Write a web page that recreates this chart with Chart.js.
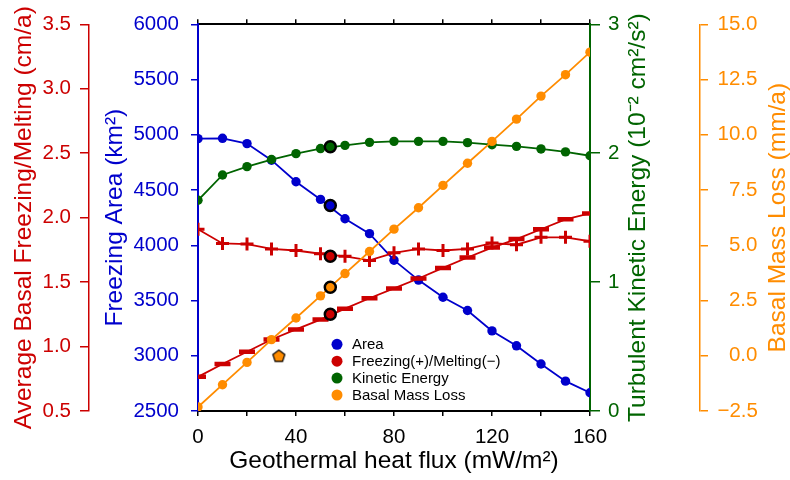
<!DOCTYPE html>
<html>
<head>
<meta charset="utf-8">
<script src="https://cdn.jsdelivr.net/npm/chart.js@4.4.1/dist/chart.umd.min.js"></script>
<style>
  body { margin: 0; background: #fff; }
  #wrap { width: 790px; height: 480px; }
</style>
</head>
<body>
<div id="wrap"><canvas id="fluxChart" width="790" height="480"></canvas></div>
<script>
// Geothermal heat flux runs: area, freezing/melting, TKE, mass loss

const heatFlux = [0, 10, 20, 30, 40, 50, 60, 70, 80, 90, 100, 110, 120, 130, 140, 150, 160];
const freezingArea = [4965, 4968, 4920, 4770, 4575, 4415, 4240, 4105, 3865, 3685, 3530, 3410, 3225, 3090, 2925, 2770, 2665];
const freezing = [1.91, 1.80, 1.795, 1.757, 1.745, 1.72, 1.70, 1.668, 1.727, 1.757, 1.745, 1.757, 1.803, 1.79, 1.847, 1.847, 1.817];
const melting = [0.765, 0.865, 0.96, 1.055, 1.133, 1.209, 1.294, 1.375, 1.451, 1.528, 1.61, 1.691, 1.768, 1.834, 1.91, 1.987, 2.033];
const kineticEnergy = [1.635, 1.831, 1.896, 1.951, 1.997, 2.036, 2.061, 2.084, 2.092, 2.092, 2.092, 2.082, 2.066, 2.053, 2.033, 2.010, 1.980];
const massLoss = [-2.32, -1.31, -0.30, 0.73, 1.71, 2.71, 3.72, 4.72, 5.73, 6.70, 7.71, 8.71, 9.70, 10.71, 11.75, 12.72, 13.74];

// circled reference run
const markedFlux = [54];
const markedArea = [4360];
const markedFreezing = [1.70];
const markedMelting = [1.25];
const markedEnergy = [2.05];
const markedMassLoss = [3.10];

// lone pentagon estimate
const pentagonFlux = [33];
const pentagonMassLoss = [0.0];

const xLabelTicks = [0, 40, 80, 120, 160];
const legendLabels = ['Area', 'Freezing(+)/Melting(\u2212)', 'Kinetic Energy', 'Basal Mass Loss'];

const BLUE = '#0000cc';
const RED = '#cc0000';
const GREEN = '#006400';
const ORANGE = '#ff8c00';
const FAMILY = "'Liberation Sans', Arial, sans-serif";

function pairs(xs, ys) {
    return xs.map((x, i) => ({ x: x, y: ys[i] }));
}

function pentagonImage(size, fill) {
    const c = document.createElement('canvas');
    c.width = size;
    c.height = size;
    const g = c.getContext('2d');
    const r = size / 2 - 1.2;
    g.beginPath();
    for (let k = 0; k < 5; k++) {
        const a = -Math.PI / 2 + k * 2 * Math.PI / 5;
        const px = size / 2 + r * Math.cos(a);
        const py = size / 2 + 0.6 + r * Math.sin(a);
        if (k === 0) g.moveTo(px, py); else g.lineTo(px, py);
    }
    g.closePath();
    g.fillStyle = fill;
    g.fill();
    g.lineWidth = 1.2;
    g.strokeStyle = '#000';
    g.stroke();
    return c;
}

// right-hand titles read bottom-to-top in the original
const rightTitles = {
    id: 'rightTitles',
    afterDraw(chart) {
        const ctx = chart.ctx;
        const area = chart.chartArea;
        const midY = (area.top + area.bottom) / 2;
        const items = [
            ['yTke', 48, GREEN, 'Turbulent Kinetic Energy (10\u207B\u00B2 cm\u00B2/s\u00B2)'],
            ['yMass', 78, ORANGE, 'Basal Mass Loss (mm/a)']
        ];
        ctx.save();
        ctx.font = '24.5px ' + FAMILY;
        ctx.textAlign = 'center';
        ctx.textBaseline = 'middle';
        items.forEach(function (it) {
            const scale = chart.scales[it[0]];
            ctx.save();
            ctx.translate(scale.left + it[1], midY);
            ctx.rotate(-Math.PI / 2);
            ctx.fillStyle = it[2];
            ctx.fillText(it[3], 0, 0);
            ctx.restore();
        });
        ctx.restore();
    }
};

const insideLegend = {
    id: 'insideLegend',
    afterDraw(chart) {
        const ctx = chart.ctx;
        const area = chart.chartArea;
        const colors = [BLUE, RED, GREEN, ORANGE];
        const x0 = area.left + 139;
        const y0 = area.top + 320;
        ctx.save();
        ctx.font = '15px ' + FAMILY;
        ctx.textBaseline = 'middle';
        legendLabels.forEach(function (label, i) {
            const y = y0 + i * 16.9;
            ctx.beginPath();
            ctx.arc(x0, y, 5.5, 0, Math.PI * 2);
            ctx.fillStyle = colors[i];
            ctx.fill();
            ctx.fillStyle = '#000';
            ctx.fillText(label, x0 + 15, y + 1);
        });
        ctx.restore();
    }
};

function yAxis(opts) {
    return {
        position: opts.position,
        weight: opts.weight,
        min: opts.min,
        max: opts.max,
        ticks: {
            stepSize: opts.step,
            color: opts.color,
            padding: opts.padding,
            font: { family: FAMILY, size: 20.5 },
            callback: opts.format
        },
        grid: { drawOnChartArea: false, tickLength: opts.tickLength, color: opts.color, lineWidth: 1.5 },
        border: { color: opts.color, width: opts.borderWidth },
        title: opts.title ? {
            display: true,
            text: opts.title,
            color: opts.color,
            font: { family: FAMILY, size: 24.5, lineHeight: 1 },
            padding: { top: opts.titlePad, bottom: 0 }
        } : { display: false },
        afterFit: function (scale) { scale.width = opts.width; }
    };
}

const ctx = document.getElementById('fluxChart');

new Chart(ctx, {
    type: 'line',
    data: {
        datasets: [
            {
                label: 'Area',
                data: pairs(heatFlux, freezingArea),
                yAxisID: 'yArea',
                borderColor: BLUE,
                backgroundColor: BLUE,
                borderWidth: 1.8,
                pointRadius: 4.7,
                pointBorderWidth: 0,
                order: 6
            },
            {
                label: 'Freezing(+)',
                data: pairs(heatFlux, freezing),
                yAxisID: 'yFm',
                borderColor: RED,
                backgroundColor: RED,
                borderWidth: 1.8,
                pointStyle: 'cross',
                pointRadius: 6.5,
                pointBorderWidth: 3,
                order: 5
            },
            {
                label: 'Melting(\u2212)',
                data: pairs(heatFlux, melting),
                yAxisID: 'yFm',
                borderColor: RED,
                backgroundColor: RED,
                borderWidth: 1.8,
                pointStyle: 'line',
                pointRadius: 8,
                pointBorderWidth: 4.5,
                order: 5
            },
            {
                label: 'Kinetic Energy',
                data: pairs(heatFlux, kineticEnergy),
                yAxisID: 'yTke',
                borderColor: GREEN,
                backgroundColor: GREEN,
                borderWidth: 1.8,
                pointRadius: 4.7,
                pointBorderWidth: 0,
                order: 4
            },
            {
                label: 'Basal Mass Loss',
                data: pairs(heatFlux, massLoss),
                yAxisID: 'yMass',
                borderColor: ORANGE,
                backgroundColor: ORANGE,
                borderWidth: 1.8,
                pointRadius: 4.7,
                pointBorderWidth: 0,
                order: 3
            },
            { data: pairs(markedFlux, markedArea), yAxisID: 'yArea', showLine: false, pointRadius: 5.5, pointBorderWidth: 2.5, pointBorderColor: '#000', pointBackgroundColor: BLUE, order: 1 },
            { data: pairs(markedFlux, markedFreezing), yAxisID: 'yFm', showLine: false, pointRadius: 5.5, pointBorderWidth: 2.5, pointBorderColor: '#000', pointBackgroundColor: RED, order: 1 },
            { data: pairs(markedFlux, markedMelting), yAxisID: 'yFm', showLine: false, pointRadius: 5.5, pointBorderWidth: 2.5, pointBorderColor: '#000', pointBackgroundColor: RED, order: 1 },
            { data: pairs(markedFlux, markedEnergy), yAxisID: 'yTke', showLine: false, pointRadius: 5.5, pointBorderWidth: 2.5, pointBorderColor: '#000', pointBackgroundColor: GREEN, order: 1 },
            { data: pairs(markedFlux, markedMassLoss), yAxisID: 'yMass', showLine: false, pointRadius: 5.5, pointBorderWidth: 2.5, pointBorderColor: '#000', pointBackgroundColor: ORANGE, order: 1 },
            { data: pairs(pentagonFlux, pentagonMassLoss), yAxisID: 'yMass', showLine: false, pointStyle: pentagonImage(15, ORANGE), pointRadius: 7, order: 0 }
        ]
    },
    options: {
        responsive: false,
        animation: false,
        events: [],
        layout: { padding: 0 },
        plugins: {
            legend: { display: false },
            tooltip: { enabled: false }
        },
        scales: {
            x: {
                type: 'linear',
                position: 'bottom',
                min: 0,
                max: 160,
                ticks: {
                    stepSize: 20,
                    autoSkip: false,
                    maxRotation: 0,
                    color: '#000',
                    padding: 9.5,
                    font: { family: FAMILY, size: 20.5 },
                    callback: function (v) { return xLabelTicks.includes(v) ? String(v) : ''; }
                },
                grid: { drawOnChartArea: false, tickLength: 5, color: '#000', lineWidth: 1.5 },
                border: { color: '#000', width: 2 },
                title: {
                    display: true,
                    text: 'Geothermal heat flux (mW/m\u00B2)',
                    color: '#000',
                    font: { family: FAMILY, size: 24.5, lineHeight: 1 },
                    padding: { top: 0, bottom: 7 }
                },
                afterFit: function (scale) { scale.height = 69; }
            },
            xTop: {
                type: 'linear',
                position: 'top',
                min: 0,
                max: 160,
                ticks: { stepSize: 20, autoSkip: false, display: false },
                grid: { drawOnChartArea: false, tickLength: 5, color: '#000', lineWidth: 1.5 },
                border: { color: '#000', width: 2 },
                afterFit: function (scale) { scale.height = 19; }
            },
            yFm: yAxis({
                position: 'left', weight: 2, min: 0.5, max: 3.5, step: 0.5, color: RED,
                padding: 9, tickLength: 9, borderWidth: 1.5, width: 89, titlePad: 12,
                title: 'Average Basal Freezing/Melting (cm/a)',
                format: function (v) { return v.toFixed(1); }
            }),
            yArea: yAxis({
                position: 'left', weight: 1, min: 2500, max: 6000, step: 500, color: BLUE,
                padding: 12, tickLength: 7, borderWidth: 2, width: 109, titlePad: 14,
                title: 'Freezing Area (km\u00B2)',
                format: function (v) { return String(v); }
            }),
            yTke: yAxis({
                position: 'right', weight: 1, min: 0, max: 3, step: 1, color: GREEN,
                padding: 8, tickLength: 10, borderWidth: 2, width: 110,
                format: function (v) { return String(v); }
            }),
            yMass: yAxis({
                position: 'right', weight: 2, min: -2.5, max: 15, step: 2.5, color: ORANGE,
                padding: 9.5, tickLength: 8, borderWidth: 1.5, width: 90,
                // figure space keeps the short labels flush right
                format: function (v) {
                    const s = v.toFixed(1).replace('-', '\u2212');
                    return s.length < 4 ? '\u2007' + s : s;
                }
            })
        }
    },
    plugins: [rightTitles, insideLegend]
});
</script>
</body>
</html>
